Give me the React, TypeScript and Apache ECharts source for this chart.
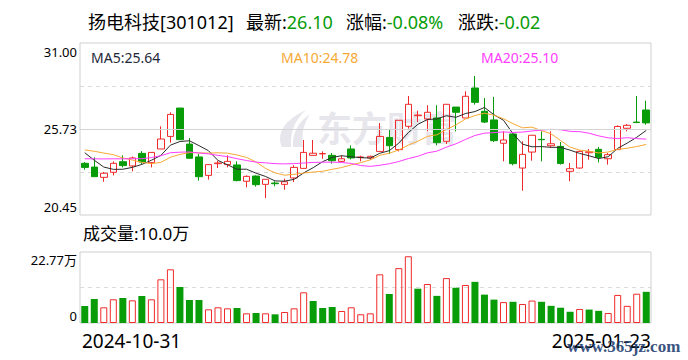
import React, { useEffect, useRef } from "react";
import * as echarts from "echarts";

const dates = [
  "2024-10-31",
  "2024-11-01", "2024-11-04", "2024-11-05", "2024-11-06", "2024-11-07", "2024-11-08",
  "2024-11-11", "2024-11-12", "2024-11-13", "2024-11-14", "2024-11-15",
  "2024-11-18", "2024-11-19", "2024-11-20", "2024-11-21", "2024-11-22",
  "2024-11-25", "2024-11-26", "2024-11-27", "2024-11-28", "2024-11-29",
  "2024-12-02", "2024-12-03", "2024-12-04", "2024-12-05", "2024-12-06",
  "2024-12-09", "2024-12-10", "2024-12-11", "2024-12-12", "2024-12-13",
  "2024-12-16", "2024-12-17", "2024-12-18", "2024-12-19", "2024-12-20",
  "2024-12-23", "2024-12-24", "2024-12-25", "2024-12-26", "2024-12-27",
  "2024-12-30", "2024-12-31",
  "2025-01-02", "2025-01-03",
  "2025-01-06", "2025-01-07", "2025-01-08", "2025-01-09", "2025-01-10",
  "2025-01-13", "2025-01-14", "2025-01-15", "2025-01-16", "2025-01-17",
  "2025-01-20", "2025-01-21", "2025-01-22", "2025-01-23",
];

const opens = [
  23.62, 23.39, 22.76, 23.07, 23.72, 23.46, 24.23, 23.66, 24.5, 25.27,
  27.01, 24.8, 24.01, 22.88, 23.6, 23.54, 23.52, 22.52, 22.84, 22.33,
  22.41, 22.33, 22.72, 23.31, 24.11, 24.2, 24.11, 23.74, 24.5, 23.97,
  23.95, 24.35, 25.21, 24.46, 25.89, 26.54, 26.34, 26.4, 24.97, 27.07,
  26.4, 28.24, 26.81, 26.28, 24.85, 25.42, 23.33, 24.31, 25.09, 24.7,
  24.66, 23.13, 23.33, 24.27, 24.48, 23.9, 24.46, 25.77, 26.15, 26.89,
];

const closes = [
  23.37, 22.8, 23.01, 23.62, 23.48, 23.95, 23.7, 24.29, 25.11, 26.62,
  25.07, 23.93, 22.8, 23.54, 23.64, 23.74, 22.56, 22.82, 22.31, 22.64,
  22.37, 22.49, 23.37, 24.29, 24.24, 24.22, 23.78, 23.9, 23.95, 24.01,
  24.05, 25.27, 24.7, 26.26, 27.24, 26.58, 26.75, 24.89, 27.24, 26.75,
  27.73, 27.36, 26.15, 25.01, 25.05, 23.6, 24.17, 25.34, 25.07, 24.82,
  23.61, 23.29, 24.35, 24.33, 23.99, 24.15, 25.88, 25.95, 26.12, 26.1,
];

const highs = [
  23.7, 23.99, 23.09, 23.74, 24.11, 24.03, 24.37, 24.29, 25.89, 26.75,
  27.01, 25.17, 24.19, 23.56, 23.78, 24.11, 23.74, 22.88, 22.88, 22.64,
  22.52, 22.68, 23.5, 25.05, 25.05, 24.35, 24.25, 24.11, 24.72, 24.09,
  24.09, 26.09, 25.68, 26.26, 27.75, 26.85, 27.18, 27.18, 27.24, 27.07,
  28.04, 28.98, 27.63, 27.69, 25.58, 25.42, 24.97, 25.34, 25.58, 25.58,
  24.93, 23.64, 24.4, 24.5, 24.62, 24.25, 25.95, 26.03, 27.75, 27.46,
];

const lows = [
  23.23, 22.8, 22.49, 22.88, 23.37, 23.13, 23.58, 23.37, 24.5, 24.89,
  25.07, 23.93, 22.56, 22.62, 23.33, 23.37, 22.52, 22.15, 22.19, 21.49,
  22.21, 22.0, 22.47, 23.31, 24.11, 23.9, 23.6, 23.7, 23.86, 23.74,
  23.84, 24.35, 24.19, 24.35, 25.75, 26.15, 25.58, 24.72, 24.8, 25.58,
  26.4, 27.22, 26.09, 24.93, 23.74, 23.5, 21.94, 23.78, 23.74, 24.56,
  23.54, 22.52, 23.29, 23.84, 23.68, 23.54, 24.46, 25.58, 26.09, 25.99,
];

// closes of the 19 sessions before the first visible one (for the moving averages)
const priorCloses = [
  22.9, 23.1, 23.5, 23.5, 23.8, 23.7, 22.9, 22.8, 22.98, 24.42,
  23.6, 24.11, 24.62, 25.48, 25.25, 25.1, 25.09, 24.33, 23.45,
];

// volume in 万 (10k shares)
const volumes = [
  5.45, 7.7, 5.03, 7.6, 8.02, 7.27, 8.66, 7.6, 14.01, 17.22,
  11.55, 7.38, 7.38, 4.38, 5.03, 4.7, 4.81, 3.1, 3.21, 3.1,
  2.78, 3.53, 4.7, 9.84, 7.06, 4.81, 5.13, 3.85, 5.03, 2.8,
  3.1, 15.6, 9.3, 17.6, 21.4, 11.0, 12.5, 8.7, 14.4, 11.3,
  12.2, 13.2, 9.1, 7.5, 6.7, 6.8, 6.1, 7.2, 6.8, 5.5,
  4.9, 3.6, 4.5, 4.3, 3.9, 3.2, 9.0, 5.5, 9.4, 10.0,
];

// 1 = red hollow (up vs previous close), 0 = green solid
const volUp = [
  0, 0, 1, 1, 0, 1, 0, 1, 1, 1,
  0, 0, 0, 1, 1, 1, 0, 1, 0, 1,
  0, 1, 1, 1, 0, 0, 0, 1, 1, 1,
  1, 1, 0, 1, 1, 0, 1, 0, 1, 0,
  1, 0, 0, 0, 1, 0, 1, 1, 0, 0,
  0, 0, 1, 0, 0, 1, 1, 1, 1, 0,
];

const priceTickLabels = ["20.45", "", "25.73", "", "31.00"];
const volTickLabels = ["0", "", "22.77万"];

const stockName = "扬电科技[301012]";
const latestPrice = "26.10";
const changePct = "-0.08%";
const changeAmt = "-0.02";

const RED = "#f02a2a";
const GREEN = "#089c08";
const MA5C = "#2b2b2b";
const MA10C = "#f7a934";
const MA20C = "#ff3cff";
const FONT = "'Noto Sans','Noto Sans CJK SC',sans-serif";

echarts.graphic.registerShape(
  "swoosh",
  echarts.graphic.extendPath(
    "M6 37 C0 24 8 10 30 0 C20 9 14 20 15 37 Z M17 37 C16 24 22 12 34 4 C28 13 25 24 27 37 Z",
    {}
  )
);

export default function App() {
  const ref = useRef<HTMLDivElement>(null);

  useEffect(() => {
    const chart = echarts.init(ref.current!, null, { renderer: "svg" });

    const allCloses = [...priorCloses, ...closes];
    const ma = (n: number) =>
      closes.map((_, i) => {
        const end = i + priorCloses.length;
        let s = 0;
        for (let k = end - n + 1; k <= end; k++) s += allCloses[k];
        return +(s / n).toFixed(3);
      });
    const ma5 = ma(5);
    const ma10 = ma(10);
    const ma20 = ma(20);
    const last = closes.length - 1;

    const candleData = closes.map((c, i) => [opens[i], c, lows[i], highs[i]]);
    const volData = volumes.map((v, i) => ({
      value: v,
      itemStyle: volUp[i]
        ? { color: "rgba(255,255,255,0)", borderColor: RED, borderWidth: 1 }
        : { color: GREEN, borderWidth: 0 },
    }));

    const labelBase = { fontSize: 13, fontFamily: FONT, color: "#000" };

    const option: any = {
      animation: false,
      backgroundColor: "#fff",
      grid: [
        { left: 80, right: 37, top: 43, height: 172, show: true, borderColor: "#cfcfcf", borderWidth: 1 },
        { left: 80, right: 37, top: 252, height: 71, show: true, borderColor: "#cfcfcf", borderWidth: 1 },
      ],
      xAxis: [
        {
          type: "category", gridIndex: 0, data: dates, boundaryGap: true,
          axisLine: { show: false }, axisTick: { show: false }, axisLabel: { show: false }, splitLine: { show: false },
        },
        {
          type: "category", gridIndex: 1, data: dates, boundaryGap: true,
          axisLine: { show: false }, axisTick: { show: false }, axisLabel: { show: false }, splitLine: { show: false },
        },
      ],
      yAxis: [
        {
          type: "value", gridIndex: 0, min: 20.45, max: 31.0, interval: 2.6375,
          axisLine: { show: false }, axisTick: { show: false },
          splitLine: { show: true, showMinLine: false, showMaxLine: false, lineStyle: { type: [4, 4], color: "#dadada", width: 1 } },
          axisLabel: {
            ...labelBase,
            margin: 3,
            formatter: (_v: number, i: number) => {
              const t = priceTickLabels[i] || "";
              if (i === 0) return `{b|${t}}`;
              if (i === priceTickLabels.length - 1) return `{t|${t}}`;
              return t;
            },
            rich: {
              t: { ...labelBase, padding: [17, 0, 0, 0] },
              b: { ...labelBase, padding: [0, 0, 16, 0] },
            },
          },
        },
        {
          type: "value", gridIndex: 1, min: 0, max: 22.77, interval: 11.385,
          axisLine: { show: false }, axisTick: { show: false },
          splitLine: { show: true, showMinLine: false, showMaxLine: false, lineStyle: { type: [4, 4], color: "#dadada", width: 1 } },
          axisLabel: {
            ...labelBase,
            margin: 3,
            formatter: (_v: number, i: number) => {
              const t = volTickLabels[i] || "";
              if (i === 0) return `{b|${t}}`;
              if (i === volTickLabels.length - 1) return `{t|${t}}`;
              return t;
            },
            rich: {
              t: { ...labelBase, padding: [16, 0, 0, 0] },
              b: { ...labelBase, padding: [0, 0, 14, 0] },
            },
          },
        },
      ],
      series: [
        {
          type: "candlestick",
          xAxisIndex: 0, yAxisIndex: 0,
          data: candleData,
          barWidth: 7,
          itemStyle: {
            color: "rgba(255,255,255,0)",
            color0: GREEN,
            borderColor: RED,
            borderColor0: GREEN,
            borderWidth: 1,
          },
          markLine: {
            silent: true,
            symbol: "none",
            label: { show: false },
            lineStyle: { type: "solid", color: "#d4d4d4", width: 1 },
            data: [{ yAxis: 25.725 }],
          },
        },
        { type: "line", xAxisIndex: 0, yAxisIndex: 0, data: ma5, showSymbol: false, lineStyle: { color: MA5C, width: 1 }, itemStyle: { color: MA5C } },
        { type: "line", xAxisIndex: 0, yAxisIndex: 0, data: ma10, showSymbol: false, lineStyle: { color: MA10C, width: 1 }, itemStyle: { color: MA10C } },
        { type: "line", xAxisIndex: 0, yAxisIndex: 0, data: ma20, showSymbol: false, lineStyle: { color: MA20C, width: 1 }, itemStyle: { color: MA20C } },
        { type: "bar", xAxisIndex: 1, yAxisIndex: 1, data: volData, barWidth: 7 },
      ],
      graphic: {
        elements: [
          {
            type: "swoosh", x: 276, y: 110, scaleX: 1, scaleY: 1, z: -5,
            style: { fill: "#e6e6ec" },
          },
          {
            type: "text", x: 317, y: 128, z: -5,
            style: { text: "东方财富", fontSize: 35, fontWeight: "bold", fontFamily: FONT, fill: "#e6e6ec", verticalAlign: "middle" },
          },
          {
            type: "text", x: 88, y: 22,
            style: { text: stockName, fontSize: 18, fontFamily: FONT, fill: "#000", verticalAlign: "middle" },
          },
          {
            type: "text", x: 246, y: 22,
            style: {
              text: `{k|最新:}{g|${latestPrice}}`, verticalAlign: "middle",
              rich: { k: { fontSize: 18, fontFamily: FONT, fill: "#000" }, g: { fontSize: 18, fontFamily: FONT, fill: GREEN } },
            },
          },
          {
            type: "text", x: 346, y: 22,
            style: {
              text: `{k|涨幅:}{g|${changePct}}`, verticalAlign: "middle",
              rich: { k: { fontSize: 18, fontFamily: FONT, fill: "#000" }, g: { fontSize: 18, fontFamily: FONT, fill: GREEN } },
            },
          },
          {
            type: "text", x: 458, y: 22,
            style: {
              text: `{k|涨跌:}{g|${changeAmt}}`, verticalAlign: "middle",
              rich: { k: { fontSize: 18, fontFamily: FONT, fill: "#000" }, g: { fontSize: 18, fontFamily: FONT, fill: GREEN } },
            },
          },
          {
            type: "text", x: 91, y: 57,
            style: { text: `MA5:${ma5[last].toFixed(2)}`, fontSize: 14, fontFamily: FONT, fill: "#1e2838", verticalAlign: "middle" },
          },
          {
            type: "text", x: 281, y: 57,
            style: { text: `MA10:${ma10[last].toFixed(2)}`, fontSize: 14, fontFamily: FONT, fill: MA10C, verticalAlign: "middle" },
          },
          {
            type: "text", x: 481, y: 57,
            style: { text: `MA20:${ma20[last].toFixed(2)}`, fontSize: 14, fontFamily: FONT, fill: MA20C, verticalAlign: "middle" },
          },
          {
            type: "text", x: 83, y: 233,
            style: { text: `成交量:${volumes[last].toFixed(1)}万`, fontSize: 17, fontFamily: FONT, fill: "#000", verticalAlign: "middle" },
          },
          {
            type: "text", x: 82, y: 341,
            style: { text: dates[0], fontSize: 19, fontFamily: FONT, fill: "#000", verticalAlign: "middle" },
          },
          {
            type: "text", x: 651, y: 341,
            style: { text: dates[last], fontSize: 19, fontFamily: FONT, fill: "#000", align: "right", verticalAlign: "middle" },
          },
          {
            type: "text", x: 567, y: 346,
            style: { text: "www.365jz.com", fontSize: 17, fontFamily: "'Liberation Serif',serif", fontWeight: "bold", fill: "#1d3d70", opacity: 0.9, verticalAlign: "middle" },
          },
        ],
      },
    };

    chart.setOption(option);
    return () => chart.dispose();
  }, []);

  return (
    <div
      ref={ref}
      style={{ position: "absolute", left: 0, top: 0, width: 688, height: 360 }}
    />
  );
}
